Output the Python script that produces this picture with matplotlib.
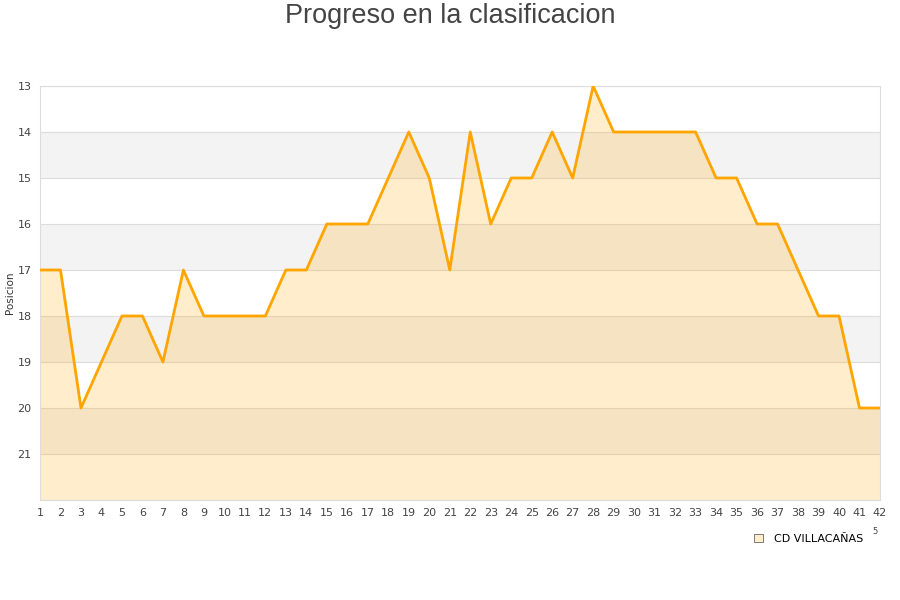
import matplotlib
matplotlib.use("Agg")
import matplotlib.pyplot as plt
from matplotlib.patches import Patch

jornadas = list(range(1, 43))
posiciones = [17, 17, 20, 19, 18, 18, 19, 17, 18, 18, 18, 18, 17, 17, 16, 16, 16, 15, 14, 15, 17,
              14, 16, 15, 15, 14, 15, 13, 14, 14, 14, 14, 14, 15, 15, 16, 16, 17, 18, 18, 20, 20]
equipo = "CD VILLACAÑAS"
y_ticks = [13, 14, 15, 16, 17, 18, 19, 20, 21]

fig = plt.figure(figsize=(9, 6), dpi=100)
ax = fig.add_axes([40 / 900, 1 - 500 / 600, 840 / 900, 414 / 600])

# alternating bands
for y0 in range(13, 22):
    if y0 % 2 == 0:
        ax.axhspan(y0, y0 + 1, color="#f3f3f3", zorder=0, lw=0)

ax.fill_between(jornadas, posiciones, 22, color="#FFA500", alpha=0.2, lw=0, zorder=2)
ax.plot(jornadas, posiciones, color="#FFA500", lw=2, zorder=3)

ax.set_xlim(1, 42)
ax.set_ylim(22, 13)
ax.set_xticks(jornadas)
ax.set_yticks(y_ticks)
ax.tick_params(length=0, labelsize=8, colors="#444444", pad=6)
ax.grid(axis="y", color="#dddddd", lw=0.8, zorder=1)
for s in ax.spines.values():
    s.set_color("#dddddd")

ax.set_ylabel("Posicion", fontsize=7.5, color="#333333", labelpad=2)
fig.text(0.5, 0.974, "Progreso en la clasificacion", ha="center", va="center",
         fontsize=19.5, color="#444444", family="Liberation Sans")

handle = Patch(facecolor="#FFEDCC", edgecolor="#666666", lw=0.6)
fig.legend([handle], [equipo], loc="center", bbox_to_anchor=(809 / 900, 1 - 539 / 600),
           frameon=False, fontsize=8, handlelength=0.8, handleheight=0.8, handletextpad=1.0)
fig.text(875 / 900, 1 - 532 / 600, "5", fontsize=6, color="#444444", ha="center", va="center")

fig.savefig("out.png", dpi=100)
